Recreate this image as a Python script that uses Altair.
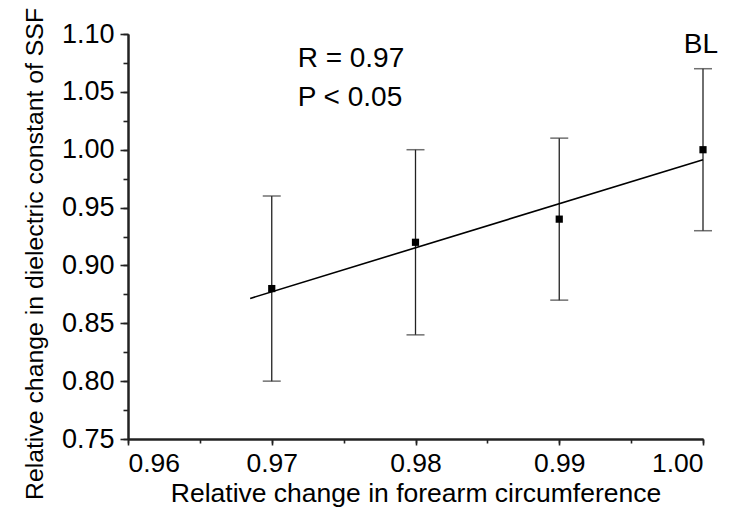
import altair as alt
import pandas as pd

# ---- data ----
circ = [0.97, 0.98, 0.99, 1.00]
diel = [0.88, 0.92, 0.94, 1.00]
diel_low = [0.80, 0.84, 0.87, 0.93]
diel_high = [0.96, 1.00, 1.01, 1.07]

fit_x = [0.9685, 1.00]
fit_y = [0.8715, 0.9914]

x_major = [0.96, 0.97, 0.98, 0.99, 1.00]
x_minor = [0.96, 0.965, 0.97, 0.975, 0.98, 0.985, 0.99, 0.995, 1.00]
y_major = [0.75, 0.80, 0.85, 0.90, 0.95, 1.00, 1.05, 1.10]
y_minor = [0.75, 0.775, 0.80, 0.825, 0.85, 0.875, 0.90, 0.925, 0.95, 0.975,
           1.00, 1.025, 1.05, 1.075, 1.10]

ann_text = ["R = 0.97", "P < 0.05", "BL"]
ann_x = [0.9718, 0.9718, 0.99985]
ann_y = [1.0717, 1.0378, 1.0833]
ann_align = ["left", "left", "center"]

pts = pd.DataFrame({"x": circ, "y": diel, "lo": diel_low, "hi": diel_high})
fit = pd.DataFrame({"x": fit_x, "y": fit_y})
ann = pd.DataFrame({"x": ann_x, "y": ann_y, "t": ann_text, "a": ann_align})

FONT = "Liberation Sans"
xs = alt.Scale(domain=[0.96, 1.00], nice=False, zero=False)
ys = alt.Scale(domain=[0.75, 1.10], nice=False, zero=False)

axis_common = dict(grid=False, domainColor="#222", domainWidth=2, tickColor="#222",
                   tickWidth=1.6)

# minor-tick axes (no labels)
x_minor_axis = alt.Axis(values=x_minor, labels=False, title=None, tickSize=4,
                        orient="bottom", **axis_common)
y_minor_axis = alt.Axis(values=y_minor, labels=False, title=None, tickSize=5,
                        orient="left", **axis_common)

# major axes with labels and titles
x_major_axis = alt.Axis(values=x_major, format=".2f", tickSize=6, orient="bottom",
                        labelFont=FONT, labelFontSize=26.5, labelColor="black",
                        labelBaseline="alphabetic", labelPadding=26,
                        title="Relative change in forearm circumference",
                        titleFont=FONT, titleFontSize=26.5, titleFontWeight="normal",
                        titleColor="black", titleBaseline="alphabetic", titleY=62.5,
                        **axis_common)
y_major_axis = alt.Axis(values=y_major, format=".2f", tickSize=8, orient="left",
                        labelFont=FONT, labelFontSize=27, labelColor="black",
                        labelPadding=6,
                        title="Relative change in dielectric constant of SSF",
                        titleFont=FONT, titleFontSize=24.8, titleFontWeight="normal",
                        titleColor="black", titleBaseline="alphabetic",
                        titleX=-86, titleY=219.5, titleAngle=270,
                        **axis_common)

# error bar stems
stems = alt.Chart(pts).mark_rule(color="#222", strokeWidth=1.3).encode(
    x=alt.X("x:Q", scale=xs, axis=x_minor_axis),
    y=alt.Y("lo:Q", scale=ys, axis=y_minor_axis),
    y2="hi:Q",
)

caps_lo = alt.Chart(pts).mark_tick(color="#333", orient="horizontal", size=18,
                                   thickness=1.5).encode(
    x=alt.X("x:Q", scale=xs, axis=x_major_axis),
    y=alt.Y("lo:Q", scale=ys, axis=y_major_axis),
)
caps_hi = alt.Chart(pts).mark_tick(color="#333", orient="horizontal", size=18,
                                   thickness=1.5).encode(
    x=alt.X("x:Q", scale=xs, axis=None),
    y=alt.Y("hi:Q", scale=ys, axis=None),
)

line = alt.Chart(fit).mark_line(color="black", strokeWidth=1.6).encode(
    x=alt.X("x:Q", scale=xs, axis=None),
    y=alt.Y("y:Q", scale=ys, axis=None),
)

squares = alt.Chart(pts).mark_square(color="black", size=52, opacity=1).encode(
    x=alt.X("x:Q", scale=xs, axis=None),
    y=alt.Y("y:Q", scale=ys, axis=None),
)

texts_left = alt.Chart(ann[ann["a"] == "left"]).mark_text(
    font=FONT, fontSize=28, color="black", align="left", baseline="alphabetic"
).encode(
    x=alt.X("x:Q", scale=xs, axis=None),
    y=alt.Y("y:Q", scale=ys, axis=None),
    text="t:N",
)
texts_center = alt.Chart(ann[ann["a"] == "center"]).mark_text(
    font=FONT, fontSize=28, color="black", align="center", baseline="alphabetic"
).encode(
    x=alt.X("x:Q", scale=xs, axis=None),
    y=alt.Y("y:Q", scale=ys, axis=None),
    text="t:N",
)

chart = alt.layer(stems, caps_lo, caps_hi, line, squares, texts_left, texts_center).resolve_axis(
    x="independent", y="independent"
).properties(
    width=575, height=405,
    autosize=alt.AutoSizeParams(type="none"),
    padding={"left": 120, "top": 26, "right": 28, "bottom": 68},
    background="white",
).configure_view(stroke=None)

chart.save("out.html", embed_options={"renderer": "svg", "actions": False})
